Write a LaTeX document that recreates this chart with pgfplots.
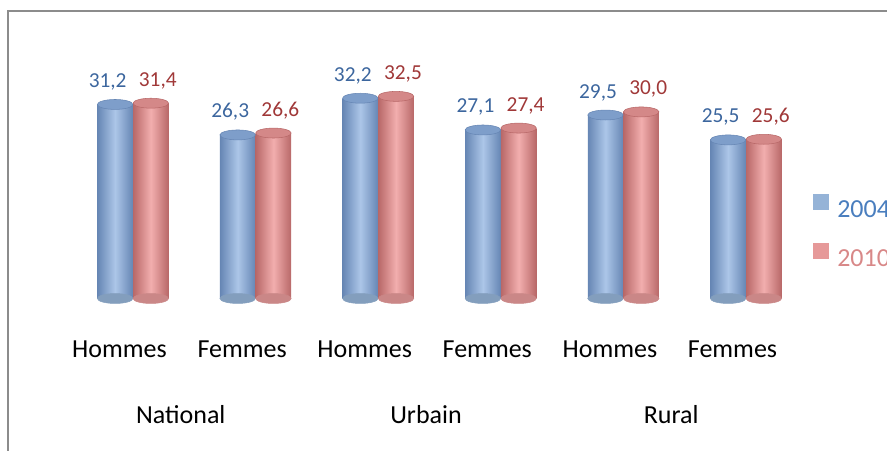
\documentclass[border=0pt]{standalone}
\usepackage{fontspec}
\setmainfont{Carlito}
\usepackage{pgfplots}
\usepackage{pgfplotstable}
\pgfplotsset{compat=1.18}

\definecolor{blueL}{RGB}{172,198,232}
\definecolor{blueD}{RGB}{102,134,180}
\definecolor{blueM}{RGB}{149,179,215}
\definecolor{blueCap}{RGB}{126,158,202}
\definecolor{redL}{RGB}{242,174,174}
\definecolor{redD}{RGB}{184,104,104}
\definecolor{redM}{RGB}{230,153,153}
\definecolor{redCap}{RGB}{212,136,136}
\definecolor{blueTxt}{RGB}{60,102,158}
\definecolor{redTxt}{RGB}{160,56,56}
\definecolor{blueLeg}{RGB}{74,126,190}
\definecolor{redLeg}{RGB}{216,136,136}
\definecolor{frame}{RGB}{140,140,140}

% 0 National H, 1 National F, 2 Urbain H, 3 Urbain F, 4 Rural H, 5 Rural F
\pgfplotstableread{
x  a2004 a2010
0  31.2  31.4
1  26.3  26.6
2  32.2  32.5
3  27.1  27.4
4  29.5  30.0
5  25.5  25.6
}\agetable

\tikzset{
  cyl/.style 2 args={left color=#2, right color=#2, middle color=#1},
}

\begin{document}
\begin{tikzpicture}
\useasboundingbox (0,0) rectangle (665.25pt,-337.5pt);
\draw[frame, line width=1.7pt] (5.85pt,-360pt) -- (5.85pt,-8.25pt) -- (700pt,-8.25pt);

\begin{axis}[
  at={(43.65pt,-223.875pt)}, anchor=south west,
  scale only axis, width=551.7pt, height=186.6pt,
  xmin=-0.5, xmax=5.5, ymin=0, ymax=40,
  clip=false,
  axis line style={draw=none},
  tick style={draw=none}, major tick length=0pt,
  ytick=\empty,
  xtick={0,...,5},
  xticklabels={Hommes,Femmes,Hommes,Femmes,Hommes,Femmes},
  xticklabel style={anchor=base, yshift=-44.6pt, font=\fontsize{19.5}{23}\selectfont},
  extra x ticks={0.5,2.5,4.5},
  extra x tick labels={National,Urbain,Rural},
  extra x tick style={xticklabel style={yshift=-48.8pt}},
  legend image code/.code={\fill[#1, draw=none] (0pt,0pt) rectangle (12pt,12pt);},
  legend style={at={(axis description cs:1.0261,0.271)}, anchor=west,
    draw=none, fill=none, inner sep=0pt,
    row sep=17.35pt, column sep=6pt,
    nodes={inner sep=0pt}, font=\fontsize{19.5}{23}\selectfont},
  legend cell align=left,
  /pgf/number format/.cd, fixed, fixed zerofill, precision=1, use comma, assume math mode=true,
]
% bottoms of the cylinders
\addplot[forget plot, only marks, mark=*, mark size=13.3pt,
  mark options={solid, draw=blueM!88!black, fill=blueM!88!black, yscale=0.28, xshift=-3.3pt}]
  table[x=x, y expr=0] {\agetable};
\addplot[forget plot, only marks, mark=*, mark size=13.3pt,
  mark options={solid, draw=redM!88!black, fill=redM!88!black, yscale=0.28, xshift=23.5pt}]
  table[x=x, y expr=0] {\agetable};

% bodies, one plot per bar so that each bar gets its own shading
\pgfplotsinvokeforeach{0,...,5}{
\addplot[forget plot, ybar, bar width=26.6pt, bar shift=-3.3pt, draw=none,
  cyl={blueL}{blueD},
  x filter/.expression={abs(x-#1)<0.1 ? x : nan},
  nodes near coords,
  every node near coord/.append style={anchor=base, yshift=12.75pt, xshift=-8.9pt,
    text=blueTxt, font=\fontsize{16}{19}\selectfont}]
  table[x=x, y=a2004] {\agetable};
\addplot[forget plot, ybar, bar width=26.6pt, bar shift=23.5pt, draw=none,
  cyl={redL}{redD},
  x filter/.expression={abs(x-#1)<0.1 ? x : nan},
  nodes near coords,
  every node near coord/.append style={anchor=base, yshift=12.75pt, xshift=28.7pt,
    text=redTxt, font=\fontsize{16}{19}\selectfont}]
  table[x=x, y=a2010] {\agetable};
}

% tops of the cylinders
\addplot[forget plot, only marks, mark=*, mark size=13.3pt,
  mark options={solid, draw=blueD, line width=0.4pt, fill=blueCap, yscale=0.28, xshift=-3.3pt}]
  table[x=x, y=a2004] {\agetable};
\addplot[forget plot, only marks, mark=*, mark size=13.3pt,
  mark options={solid, draw=redD, line width=0.4pt, fill=redCap, yscale=0.28, xshift=23.5pt}]
  table[x=x, y=a2010] {\agetable};

\addlegendimage{fill=blueM}
\addlegendentry{\textcolor{blueLeg}{2004}}
\addlegendimage{fill=redM}
\addlegendentry{\textcolor{redLeg}{2010}}
\end{axis}
\end{tikzpicture}
\end{document}
